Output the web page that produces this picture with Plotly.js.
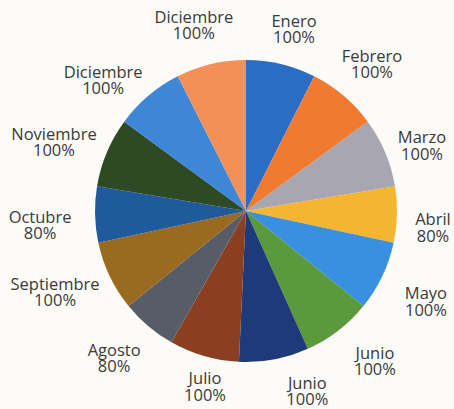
<!DOCTYPE html>
<html>
<head>
<meta charset="utf-8">
<script src="https://cdn.plot.ly/plotly-3.0.1.min.js"></script>
<style>
html,body{margin:0;padding:0;background:#fcfbf7;}
#chart{width:454px;height:409px;}
</style>
</head>
<body>
<div id="chart"></div>
<script>
var months = ["Enero","Febrero","Marzo","Abril","Mayo","Junio","Junio","Julio","Agosto","Septiembre","Octubre","Noviembre","Diciembre","Diciembre"];
var percents = [100,100,100,80,100,100,100,100,80,100,80,100,100,100];
var colors = ["#2a6cc6","#f07a30","#a8a6b0","#f5b530","#3a90e0","#5a9a3c","#1e3a7a","#8a3e22","#585c66","#9a6a20","#1f5a9c","#2e4a24","#3e86d6","#f29058"];

// label placement (layout only): distance from centre in pie radii, and angular nudge in degrees
var labelDist  = [1.234,1.272,1.240,1.244,1.339,1.320,1.270,1.205,1.318,1.379,1.368,1.347,1.275,1.266];
var labelNudge = [1.5,0.7,2.9,4.2,1.6,-2.7,-7.9,-3.1,1.2,2.0,-3.1,-3.6,-7.6,-2.4];

var ids = months.map(function(m,i){return m + "_" + i;});
var pctText = percents.map(function(p){return p + "%";});

// slice mid angles (clockwise from 12 o'clock) derived from the values
var total = percents.reduce(function(a,b){return a+b;},0);
var cum = 0;
var midTheta = percents.map(function(v,i){var t=(cum+v/2)/total*360 + labelNudge[i]; cum+=v; return t;});
var lx = midTheta.map(function(t,i){return labelDist[i]*Math.sin(t*Math.PI/180);});
var ly = midTheta.map(function(t,i){return labelDist[i]*Math.cos(t*Math.PI/180);});

var W = 454, H = 409, cx = 246, cy = 211, r = 151;
var dom = {x:[(cx-r)/W,(cx+r)/W], y:[(H-cy-r)/H,(H-cy+r)/H]};
var font = {family:"Open Sans, sans-serif", size:16.5, color:"#3a3a3a"};

var pie = {
  type:"pie", labels:ids, values:percents, sort:false, direction:"clockwise", rotation:0,
  marker:{colors:colors, line:{width:0}}, textinfo:"none", hoverinfo:"skip",
  domain:dom, showlegend:false
};
var names = {
  type:"scatter", mode:"text", x:lx, y:ly, text:months,
  textposition:"top center", textfont:font, cliponaxis:false, hoverinfo:"skip", showlegend:false
};
var pcts = {
  type:"scatter", mode:"text", x:lx, y:ly, text:pctText,
  textposition:"bottom center", textfont:font, cliponaxis:false, hoverinfo:"skip", showlegend:false
};

Plotly.newPlot("chart",[pie,names,pcts],{
  width:W, height:H, margin:{l:0,r:0,t:0,b:0},
  paper_bgcolor:"#fcfbf7", plot_bgcolor:"rgba(0,0,0,0)", showlegend:false,
  xaxis:{range:[-cx/r,(W-cx)/r], visible:false, fixedrange:true},
  yaxis:{range:[-(H-cy)/r, cy/r], visible:false, fixedrange:true}
},{displayModeBar:false, staticPlot:true});
</script>
</body>
</html>
